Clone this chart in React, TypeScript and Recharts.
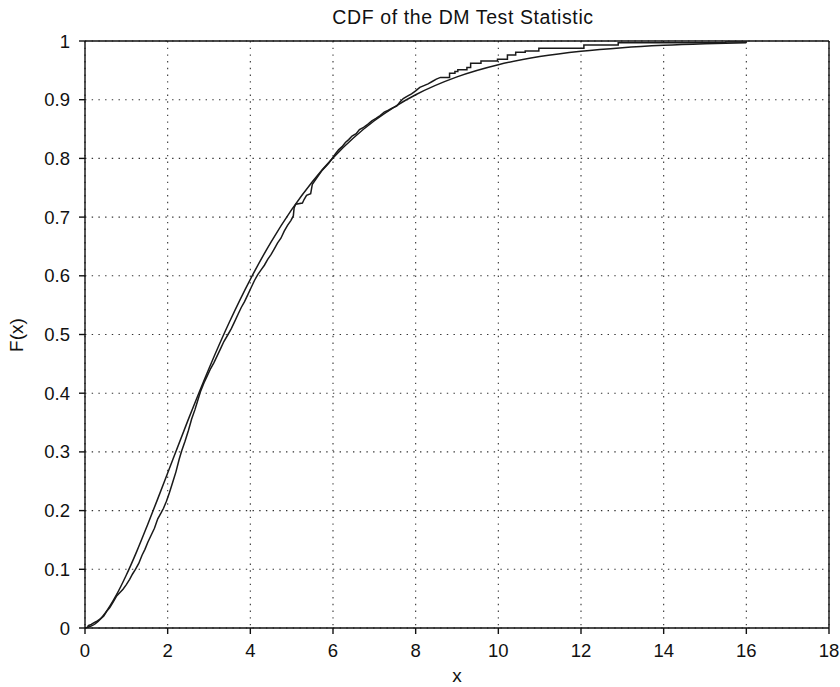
import { LineChart, Line, XAxis, YAxis, CartesianGrid, ReferenceLine } from "recharts";

const xTicks = [0, 2, 4, 6, 8, 10, 12, 14, 16, 18];
const yTicks = [0, 0.1, 0.2, 0.3, 0.4, 0.5, 0.6, 0.7, 0.8, 0.9, 1];

// smooth reference CDF
const chi2X = [0, 0.25, 0.5, 0.75, 1, 1.25, 1.5, 1.75, 2, 2.5, 3, 3.5, 4, 4.5, 5, 5.5, 6, 6.5, 7, 7.5, 8, 9, 10, 11, 12, 13, 14, 15, 16];
const chi2Y = [0, 0.0072, 0.0265, 0.055, 0.0902, 0.1301, 0.1734, 0.2183, 0.2642, 0.3554, 0.4422, 0.5221, 0.594, 0.6574, 0.7127, 0.7603, 0.8009, 0.8352, 0.8641, 0.8883, 0.9084, 0.9389, 0.9596, 0.9734, 0.9826, 0.9887, 0.9927, 0.9953, 0.997];

// empirical CDF (jagged), steps at the top
const ecdfX = [
  0.06, 0.08, 0.15, 0.22, 0.3, 0.38, 0.45, 0.52, 0.6, 0.68, 0.76, 0.84, 0.92, 1.0, 1.08, 1.15, 1.22, 1.3, 1.38, 1.45,
  1.52, 1.6, 1.68, 1.76, 1.84, 1.9, 1.97, 2.04, 2.12, 2.2, 2.28, 2.34, 2.42, 2.5, 2.58, 2.66, 2.72, 2.8, 2.88, 2.96,
  3.04, 3.12, 3.2, 3.28, 3.36, 3.46, 3.54, 3.62, 3.7, 3.78, 3.86, 3.94, 4.02, 4.1, 4.18, 4.26, 4.34, 4.42, 4.5, 4.58,
  4.66, 4.74, 4.82, 4.9, 4.98, 5.04, 5.06, 5.1, 5.26, 5.3, 5.36, 5.46, 5.5, 5.58, 5.66, 5.74, 5.82, 5.9, 5.98, 6.06,
  6.14, 6.22, 6.3, 6.38, 6.46, 6.56, 6.64, 6.74, 6.84, 6.94, 7.04, 7.14, 7.24, 7.34, 7.44, 7.54, 7.62, 7.7, 7.8, 7.9,
  8.0, 8.1, 8.2, 8.3, 8.4, 8.5, 8.6, 8.82, 8.82, 8.95, 8.95, 9.02, 9.02, 9.24, 9.24, 9.33, 9.33, 9.58, 9.58, 9.98,
  9.98, 10.22, 10.22, 10.42, 10.42, 10.65, 10.65, 10.98, 10.98, 12.07, 12.07, 12.9, 12.9, 15.5, 15.5, 16, 16,
];
const ecdfY = [
  0, 0.004, 0.006, 0.009, 0.012, 0.016, 0.02, 0.028, 0.035, 0.044, 0.054, 0.06, 0.066, 0.074, 0.083, 0.092, 0.1, 0.11, 0.124, 0.134,
  0.146, 0.158, 0.17, 0.186, 0.196, 0.204, 0.216, 0.23, 0.248, 0.266, 0.288, 0.302, 0.318, 0.336, 0.356, 0.372, 0.386, 0.404, 0.418, 0.43,
  0.442, 0.452, 0.464, 0.476, 0.488, 0.5, 0.51, 0.522, 0.534, 0.546, 0.556, 0.568, 0.58, 0.592, 0.602, 0.61, 0.618, 0.628, 0.636, 0.646,
  0.656, 0.664, 0.676, 0.686, 0.694, 0.702, 0.716, 0.722, 0.724, 0.73, 0.737, 0.74, 0.756, 0.764, 0.772, 0.78, 0.786, 0.792, 0.8, 0.808,
  0.815, 0.82, 0.827, 0.832, 0.838, 0.842, 0.849, 0.853, 0.858, 0.864, 0.868, 0.873, 0.879, 0.882, 0.886, 0.889, 0.896, 0.902, 0.906, 0.91,
  0.915, 0.921, 0.924, 0.927, 0.931, 0.935, 0.938, 0.938, 0.945, 0.945, 0.948, 0.948, 0.951, 0.951, 0.955, 0.955, 0.962, 0.962, 0.966, 0.966,
  0.969, 0.969, 0.976, 0.976, 0.981, 0.981, 0.983, 0.983, 0.9875, 0.9875, 0.993, 0.993, 0.997, 0.997, 0.9985, 0.9985, 1,
];

const theory = chi2X.map((x, i) => ({ x, y: chi2Y[i] }));
const empirical = ecdfX.map((x, i) => ({ x, y: ecdfY[i] }));

const FONT = '"Liberation Sans", Arial, Helvetica, sans-serif';
const tickStyle = { fontSize: 18.5, fill: "#111", fontFamily: FONT };
const axisStroke = { stroke: "#111", strokeWidth: 1.4 };

export default function App() {
  return (
    <div style={{ position: "absolute", left: 0, top: 0, width: 840, height: 687, background: "#fff" }}>
      <LineChart width={840} height={687} margin={{ top: 41, right: 11, bottom: 0, left: 0 }}>
        <CartesianGrid stroke="#333" strokeWidth={1.1} strokeDasharray="1.4 5.3" />
        <XAxis
          dataKey="x"
          type="number"
          domain={[0, 18]}
          ticks={xTicks}
          height={59}
          tick={tickStyle}
          tickSize={6}
          tickMargin={10}
          axisLine={axisStroke}
          tickLine={axisStroke}
        />
        <YAxis
          dataKey="y"
          type="number"
          domain={[0, 1]}
          ticks={yTicks}
          width={85}
          tick={tickStyle}
          tickSize={6}
          tickMargin={9}
          axisLine={axisStroke}
          tickLine={axisStroke}
        />
        <ReferenceLine y={1} stroke="#111" strokeWidth={1.4} />
        <ReferenceLine x={18} stroke="#111" strokeWidth={1.4} />
        <Line data={theory} dataKey="y" type="monotone" stroke="#1a1a1a" strokeWidth={1.5} dot={false} isAnimationActive={false} />
        <Line data={empirical} dataKey="y" type="linear" stroke="#1a1a1a" strokeWidth={1.5} dot={false} isAnimationActive={false} />
      </LineChart>
      <svg width={840} height={687} style={{ position: "absolute", left: 0, top: 0, pointerEvents: "none" }}>
        <text x={463} y={24} textAnchor="middle" fontSize={19.5} letterSpacing={0.6} fontFamily={FONT} fill="#111">
          CDF of the DM Test Statistic
        </text>
        <text x={457} y={682} textAnchor="middle" fontSize={19} fontFamily={FONT} fill="#111">
          x
        </text>
        <text x={23} y={335} transform="rotate(-90 23 335)" textAnchor="middle" fontSize={19} fontFamily={FONT} fill="#111">
          F(x)
        </text>
      </svg>
    </div>
  );
}
